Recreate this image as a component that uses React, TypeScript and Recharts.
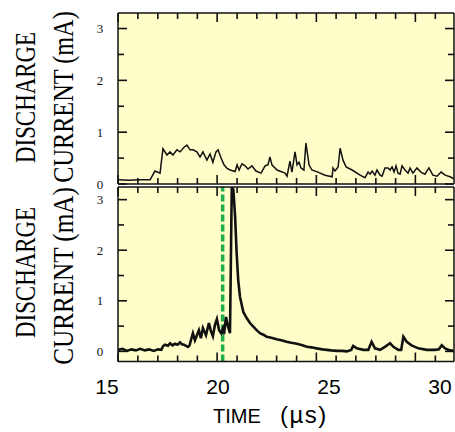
import { LineChart, Line, XAxis, YAxis, CartesianGrid, ReferenceLine } from "recharts"

// upper trace (time in µs, current in mA)
const upperTime = [
  15.5, 16.0, 16.5, 16.94, 17.16, 17.39, 17.52, 17.7, 17.84, 17.97, 18.15, 18.29, 18.47, 18.6, 18.74,
  18.87, 19.05, 19.19, 19.32, 19.5, 19.64, 19.77, 19.91, 20.0, 20.14, 20.27, 20.41, 20.54, 20.77, 20.86,
  20.95, 21.08, 21.22, 21.35, 21.53, 21.71, 21.94, 22.12, 22.25, 22.34, 22.43, 22.66, 23.02, 23.11, 23.24,
  23.33, 23.47, 23.56, 23.65, 23.74, 23.87, 23.96, 24.1, 24.23, 24.5, 24.82, 25.14, 25.18, 25.27, 25.41,
  25.5, 25.63, 25.77, 26.04, 26.4, 26.62, 26.76, 26.85, 26.94, 27.07, 27.16, 27.3, 27.39, 27.52, 27.66,
  27.75, 27.84, 27.93, 28.02, 28.11, 28.2, 28.29, 28.42, 28.56, 28.65, 28.78, 28.96, 29.14, 29.32, 29.5,
  29.68, 29.86, 30.05, 30.23, 30.45, 30.63,
]
const upperCurrent = [
  0.08, 0.07, 0.08, 0.08, 0.25, 0.21, 0.68, 0.56, 0.62, 0.56, 0.66, 0.62, 0.71, 0.75, 0.66,
  0.66, 0.62, 0.52, 0.62, 0.46, 0.58, 0.42, 0.62, 0.66, 0.5, 0.37, 0.3, 0.27, 0.24, 0.37,
  0.27, 0.39, 0.35, 0.29, 0.35, 0.25, 0.21, 0.35, 0.37, 0.52, 0.37, 0.27, 0.21, 0.15, 0.44,
  0.23, 0.62, 0.37, 0.42, 0.31, 0.27, 0.79, 0.37, 0.27, 0.23, 0.17, 0.14, 0.31, 0.25, 0.33,
  0.69, 0.46, 0.33, 0.27, 0.17, 0.12, 0.23, 0.19, 0.25, 0.17, 0.27, 0.17, 0.15, 0.31, 0.31,
  0.27, 0.33, 0.23, 0.35, 0.21, 0.19, 0.35, 0.27, 0.21, 0.31, 0.21, 0.31, 0.23, 0.19, 0.31,
  0.17, 0.15, 0.23, 0.17, 0.14, 0.1,
]

// lower trace
const lowerTime = [
  15.5, 15.7, 15.9, 16.1, 16.3, 16.5, 16.7, 16.9, 17.1, 17.3, 17.45, 17.52, 17.61, 17.75, 17.84,
  17.95, 18.06, 18.18, 18.29, 18.38, 18.47, 18.56, 18.65, 18.72, 18.78, 18.87, 18.96, 19.05, 19.14, 19.23,
  19.32, 19.46, 19.59, 19.68, 19.77, 19.86, 19.95, 20.05, 20.14, 20.22, 20.27, 20.36, 20.45, 20.54, 20.62,
  20.69, 20.77, 20.84, 20.91, 20.99, 21.14, 21.29, 21.44, 21.59, 21.74, 21.89, 22.04, 22.19, 22.4, 22.64,
  22.85, 23.09, 23.3, 23.55, 23.8, 24.0, 24.2, 24.44, 24.7, 24.9, 25.1, 25.35, 25.6, 25.8, 26.0,
  26.09, 26.25, 26.55, 26.77, 26.92, 27.07, 27.3, 27.52, 27.75, 27.9, 28.12, 28.25, 28.35, 28.5, 28.72,
  29.02, 29.4, 29.77, 29.95, 30.08, 30.23, 30.45, 30.6,
]
const lowerCurrent = [
  0.03, 0.05, 0.01, 0.04, 0.02, 0.05, 0.02, 0.04, 0.01, 0.04, 0.03, 0.1, 0.13, 0.11, 0.16,
  0.12, 0.15, 0.13, 0.18, 0.14, 0.13, 0.11, 0.09, 0.12, 0.22, 0.36, 0.22, 0.32, 0.42, 0.26,
  0.46, 0.32, 0.56, 0.4, 0.3, 0.52, 0.64, 0.42, 0.36, 0.45, 0.34, 0.68, 0.49, 0.36, 3.25,
  3.2, 2.67, 1.94, 1.41, 1.08, 0.78, 0.66, 0.56, 0.49, 0.42, 0.36, 0.33, 0.29, 0.27, 0.24,
  0.22, 0.19, 0.17, 0.15, 0.12, 0.09, 0.08, 0.06, 0.04, 0.03, 0.02, 0.01, 0.01, 0.0, 0.03,
  0.11, 0.06, 0.03, 0.03, 0.19, 0.06, 0.03, 0.09, 0.16, 0.09, 0.03, 0.03, 0.29, 0.19, 0.12,
  0.06, 0.03, 0.03, 0.04, 0.12, 0.06, 0.02, 0.01,
]

const timeLabels = [15, 20, 25, 30]
const currentTicks = [0, 0.5, 1, 1.5, 2, 2.5, 3]
// the frame's own tick marks (they do not line up with the time labels)
const frameTicks = [
  15.5, 16.39, 17.29, 18.18, 19.07, 19.96, 20.86, 21.75, 22.64, 23.54, 24.43, 25.32, 26.21, 27.11, 28.0,
  28.89, 29.79,
]
const markerTime = 20.21

const upperData = upperTime.map((t, k) => ({ t, i: upperCurrent[k] }))
const lowerData = lowerTime.map((t, k) => ({ t, i: lowerCurrent[k] }))

const INK = "#111"
const PAPER = "#fffdc9"
const SERIF = "'Liberation Serif', 'Times New Roman', serif"
const SANS = "'Liberation Sans', Arial, sans-serif"
const frameLine = { stroke: INK, strokeWidth: 1.5 }
const TIME_DOMAIN = [15, 30.63]
const TIME_PAD = { left: -11, right: 0 }

// inward tick marks on the frame, long on every fifth
const xFrameTick = (dir: number) => (p: any) => {
  const len = p.index % 5 === 0 ? 9 : 6
  return <line x1={p.x} x2={p.x} y1={p.y} y2={p.y + dir * len} stroke={INK} strokeWidth={1.6} />
}

const yLeftTick = (p: any) => {
  const v = p.payload.value
  const major = Number.isInteger(v)
  return (
    <g>
      <line x1={p.x} x2={p.x + (major ? 9 : 6)} y1={p.y} y2={p.y} stroke={INK} strokeWidth={1.6} />
      {major && (
        <text x={p.x - 18} y={p.y} textAnchor="middle" dominantBaseline="central" fontFamily={SERIF} fontSize={13} fill={INK}>
          {v}
        </text>
      )}
    </g>
  )
}

const yRightTick = (p: any) => {
  const major = Number.isInteger(p.payload.value)
  return <line x1={p.x} x2={p.x - (major ? 9 : 6)} y1={p.y} y2={p.y} stroke={INK} strokeWidth={1.6} />
}

const timeTick = (p: any) => (
  <text x={p.x} y={p.y + 32.5} textAnchor="middle" fontFamily={SANS} fontSize={21} fill="#000">
    {p.payload.value}
  </text>
)

function Panel({ data, yDomain, top, height, margin, withMarker, withLabels, strokeWidth }: any) {
  return (
    <div style={{ position: "absolute", left: 0, top }}>
      <LineChart width={455} height={height} data={data} margin={margin}>
        <CartesianGrid xAxisId="t" yAxisId="l" horizontal={false} vertical={false} fill={PAPER} fillOpacity={1} />
        <XAxis
          xAxisId="t"
          dataKey="t"
          type="number"
          orientation="bottom"
          domain={TIME_DOMAIN}
          padding={TIME_PAD}
          allowDataOverflow
          hide={!withLabels}
          height={withLabels ? 1 : 0}
          ticks={timeLabels}
          interval={0}
          tickSize={0}
          tickMargin={0}
          tickLine={false}
          axisLine={false}
          tick={timeTick}
        />
        <XAxis
          xAxisId="fb"
          dataKey="t"
          type="number"
          orientation="bottom"
          mirror
          height={1}
          domain={TIME_DOMAIN}
          padding={TIME_PAD}
          allowDataOverflow
          ticks={frameTicks}
          interval={0}
          tickSize={0}
          tickMargin={0}
          tickLine={false}
          axisLine={frameLine}
          tick={xFrameTick(-1)}
        />
        <XAxis
          xAxisId="ft"
          dataKey="t"
          type="number"
          orientation="top"
          mirror
          height={1}
          domain={TIME_DOMAIN}
          padding={TIME_PAD}
          allowDataOverflow
          ticks={frameTicks}
          interval={0}
          tickSize={0}
          tickMargin={0}
          tickLine={false}
          axisLine={frameLine}
          tick={xFrameTick(1)}
        />
        <YAxis
          yAxisId="l"
          type="number"
          orientation="left"
          mirror
          width={1}
          domain={yDomain}
          allowDataOverflow
          ticks={currentTicks}
          interval={0}
          tickSize={0}
          tickMargin={0}
          tickLine={false}
          axisLine={frameLine}
          tick={yLeftTick}
        />
        <YAxis
          yAxisId="r"
          type="number"
          orientation="right"
          mirror
          width={1}
          domain={yDomain}
          allowDataOverflow
          ticks={currentTicks}
          interval={0}
          tickSize={0}
          tickMargin={0}
          tickLine={false}
          axisLine={frameLine}
          tick={yRightTick}
        />
        {withMarker && (
          <ReferenceLine xAxisId="t" yAxisId="l" x={markerTime} stroke="#1fae4a" strokeWidth={3.5} strokeDasharray="7 3" />
        )}
        <Line
          xAxisId="t"
          yAxisId="l"
          type="linear"
          dataKey="i"
          stroke="#111"
          strokeWidth={strokeWidth}
          dot={false}
          activeDot={false}
          isAnimationActive={false}
        />
      </LineChart>
    </div>
  )
}

export default function App() {
  return (
    <div style={{ position: "absolute", left: 0, top: 0, width: 455, height: 432, background: "#fff", overflow: "hidden" }}>
      <style>{".recharts-surface { overflow: visible; }"}</style>
      <Panel
        data={upperData}
        yDomain={[0, 3.3]}
        top={0}
        height={186}
        margin={{ top: 13, right: 1, bottom: 2, left: 118 }}
        strokeWidth={1.5}
      />
      <Panel
        data={lowerData}
        yDomain={[-0.2, 3.25]}
        top={186}
        height={246}
        margin={{ top: 1, right: 1, bottom: 69.5, left: 118 }}
        withMarker
        withLabels
        strokeWidth={2.6}
      />
      <svg width={455} height={432} style={{ position: "absolute", left: 0, top: 0, pointerEvents: "none" }}>
        <g fontFamily={SERIF} fontSize={29} fill="#000" textAnchor="middle">
          <text transform="translate(35,97.5) rotate(-90) scale(0.79,1)">DISCHARGE</text>
          <text transform="translate(73,97) rotate(-90) scale(0.837,1)">CURRENT (mA)</text>
          <text transform="translate(35,272.5) rotate(-90) scale(0.79,1)">DISCHARGE</text>
          <text transform="translate(73,276) rotate(-90) scale(0.867,1)">CURRENT (mA)</text>
        </g>
        <text x={213} y={423} fontFamily={SANS} fontSize={20} fill="#000">
          TIME
          <tspan x={280} fontSize={24} letterSpacing={1.5}>(µs)</tspan>
        </text>
      </svg>
    </div>
  )
}
